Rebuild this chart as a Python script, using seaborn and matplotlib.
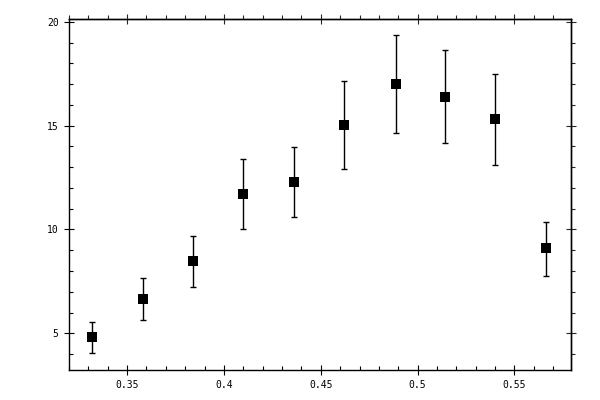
import matplotlib
matplotlib.use("Agg")
import matplotlib.pyplot as plt
import numpy as np
import pandas as pd
import seaborn as sns
from matplotlib.ticker import MultipleLocator

# === DATEN ===
x_werte = [0.3319, 0.3583, 0.3841, 0.4100, 0.4363, 0.4621, 0.4887, 0.5143, 0.5402, 0.5665]
y_werte = [4.81, 6.64, 8.47, 11.70, 12.28, 15.02, 17.00, 16.37, 15.31, 9.10]
y_oben = [5.56, 7.65, 9.70, 13.39, 13.98, 17.14, 19.36, 18.64, 17.50, 10.38]
y_unten = [4.04, 5.63, 7.22, 10.01, 10.59, 12.90, 14.64, 14.16, 13.10, 7.75]

df = pd.DataFrame({"x": x_werte, "y": y_werte, "oben": y_oben, "unten": y_unten})

sns.set_style("white")
plt.rcParams["font.family"] = ["DejaVu Sans Mono", "DejaVu Sans"]

fig = plt.figure(figsize=(6, 4), dpi=100)
ax = fig.add_axes([0.115, 0.075, 0.836, 0.877])

# Fehlerbalken
yerr = np.array([df["y"] - df["unten"], df["oben"] - df["y"]])
ax.errorbar(df["x"], df["y"], yerr=yerr, fmt="none", ecolor="black",
            elinewidth=1.0, capsize=2.5, capthick=1.0, zorder=2)
sns.scatterplot(data=df, x="x", y="y", marker="s", s=55, color="black",
                edgecolor="black", linewidth=0, ax=ax, zorder=3)

ax.set_xlim(0.320, 0.579)
ax.set_ylim(3.23, 20.13)
ax.set_xlabel("")
ax.set_ylabel("")

ax.xaxis.set_major_locator(MultipleLocator(0.05))
ax.xaxis.set_minor_locator(MultipleLocator(0.01))
ax.yaxis.set_major_locator(MultipleLocator(5))
ax.yaxis.set_minor_locator(MultipleLocator(1))
ax.set_xticks([0.35, 0.4, 0.45, 0.5, 0.55])
ax.set_xticklabels(["0.35", "0.4", "0.45", "0.5", "0.55"])
ax.set_yticks([5, 10, 15, 20])
ax.set_yticklabels(["5", "10", "15", "20"])

for sp in ax.spines.values():
    sp.set_color("black")
    sp.set_linewidth(1.0)

ax.tick_params(which="major", direction="inout", length=7, width=0.8,
               labelsize=7, pad=4, colors="black")
ax.tick_params(which="minor", direction="in", length=3, width=0.8, colors="black")
ax.tick_params(which="both", bottom=True, left=True, top=False, right=False)

# oben / rechts: kleine Ticks nach außen
oben = ax.secondary_xaxis("top")
oben.xaxis.set_major_locator(MultipleLocator(0.05))
oben.xaxis.set_minor_locator(MultipleLocator(0.01))
oben.tick_params(which="major", direction="inout", length=7, width=0.8, labeltop=False)
oben.tick_params(which="minor", direction="out", length=3, width=0.8)
oben.spines["top"].set_linewidth(1.0)

rechts = ax.secondary_yaxis("right")
rechts.yaxis.set_major_locator(MultipleLocator(5))
rechts.yaxis.set_minor_locator(MultipleLocator(1))
rechts.tick_params(which="major", direction="inout", length=7, width=0.8, labelright=False)
rechts.tick_params(which="minor", direction="out", length=3, width=0.8)
rechts.spines["right"].set_linewidth(1.0)

plt.savefig("out.png", dpi=100, facecolor="white")
plt.close()
